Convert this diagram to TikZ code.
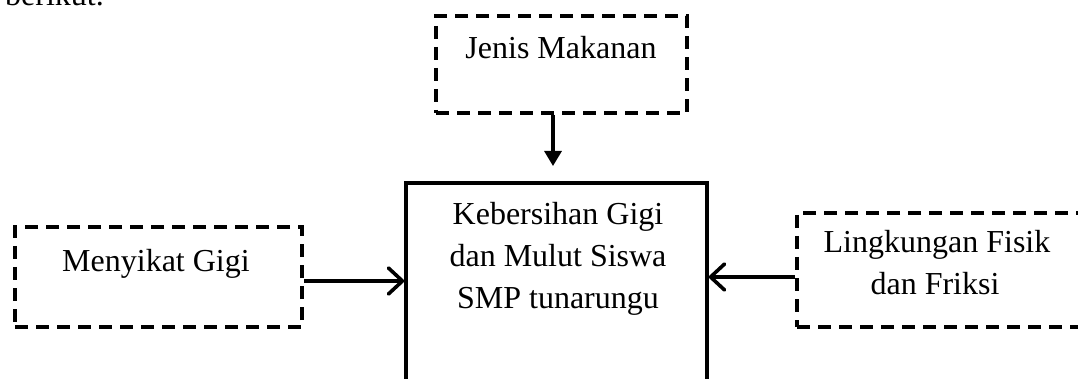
\documentclass[tikz,border=0pt]{standalone}
\usepackage{fontspec}
\setmainfont{Liberation Serif}
\usetikzlibrary{arrows.meta}
\begin{document}
\begin{tikzpicture}[x=1pt,y=-1pt,
  txt/.style={inner sep=0pt,anchor=base,font=\fontsize{32pt}{41.5pt}\selectfont},
  dbox/.style={draw,dashed,line width=4pt,dash pattern=on 13pt off 8pt,inner sep=0pt},
  sbox/.style={draw,line width=3.5pt,inner sep=0pt},
  barb/.style={line width=3.2pt,-{Straight Barb[length=14pt,width=26pt,line width=3.6pt,round]}},
  tri/.style={line width=3.2pt,-{Triangle[length=15pt,width=17pt]}}]
\useasboundingbox (0,0) rectangle (1078,379);
\clip (0,0) rectangle (1078,379);
% partial text at top
\node[txt,anchor=base west] (top) at (5,6) {berikut.};
% boxes
\node[dbox,minimum width=251pt,minimum height=97pt] (jenis) at (561.5,64.5) {};
\node[txt] (jenist) at (561,59) {Jenis Makanan};
\node[dbox,minimum width=287pt,minimum height=100pt] (sikat) at (158.5,277) {};
\node[txt] (sikatt) at (156,271) {Menyikat Gigi};
\node[dbox,minimum width=320pt,minimum height=114pt] (fisik) at (957,270) {};
\node[txt] (fisik1) at (937,253) {Lingkungan Fisik};
\node[txt] (fisik2) at (935,294) {dan Friksi};
\node[sbox,minimum width=301pt,minimum height=260pt] (pusat) at (556.5,313) {};
\node[txt] (pusat1) at (558,225) {Kebersihan Gigi};
\node[txt] (pusat2) at (558,266) {dan Mulut Siswa};
\node[txt] (pusat3) at (558,308) {SMP tunarungu};
% connectors
\coordinate (tipT) at (553,166);
\draw[tri] (jenis.south -| tipT) -- (tipT);
\draw[barb] (sikat.east |- 0,281) -- (pusat.west |- 0,281);
\draw[barb] (fisik.west |- 0,277) -- (pusat.east |- 0,277);
\end{tikzpicture}
\end{document}
